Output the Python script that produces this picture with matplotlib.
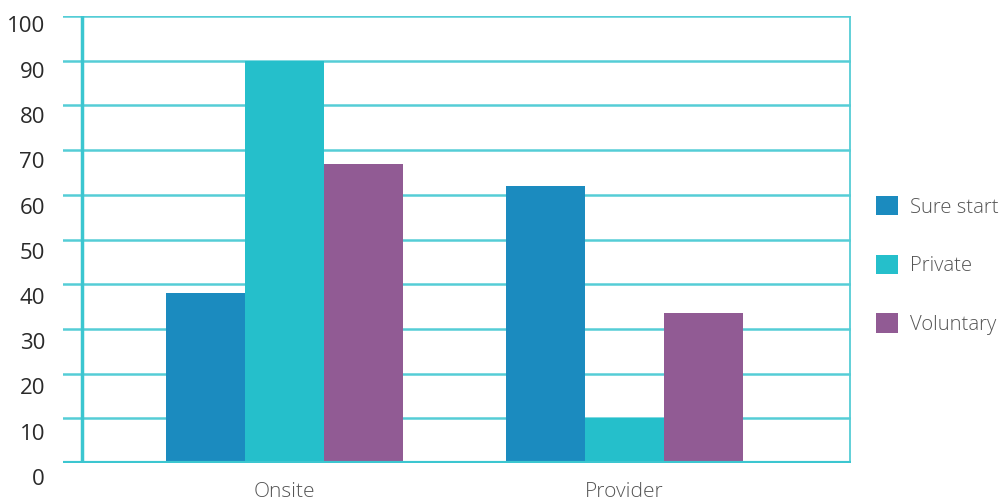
import matplotlib
matplotlib.use("Agg")
import matplotlib.pyplot as plt
import matplotlib.transforms as mtransforms
from matplotlib.patches import Patch
import numpy as np

categories = ["Onsite", "Provider"]
series = ["Sure start", "Private", "Voluntary"]
sure_start = [38, 62]
private = [90, 10]
voluntary = [67, 33.5]
colors = ["#1b8bbf", "#25bfcb", "#915b94"]
yticks = [0, 10, 20, 30, 40, 50, 60, 70, 80, 90, 100]

plt.rcParams['font.family'] = ['Open Sans', 'DejaVu Sans']

fig = plt.figure(figsize=(10.03, 5.01), dpi=100)
ax = fig.add_axes([63/1003, 38/501, 788/1003, 447/501])

x = np.arange(len(categories))
w = 0.2324
for i, (vals, c) in enumerate(zip([sure_start, private, voluntary], colors)):
    ax.bar(x + (i - 1) * w, vals, width=w, color=c, zorder=3, linewidth=0)

ax.set_xlim((63 - 284.5) / 340, (851 - 284.5) / 340)
ax.set_ylim(0, 100)
ax.set_yticks(yticks)
ax.grid(axis='y', color='#55cdd6', linewidth=1.8, zorder=1)
for s in ax.spines.values():
    s.set_visible(False)
ax.axhline(0, color='#3cc6d0', linewidth=3, zorder=4)
ax.axvline((82 - 284.5) / 340, color='#3cc6d0', linewidth=2.5, zorder=2)
ax.axvline((850 - 284.5) / 340, color='#55cdd6', linewidth=1.3, zorder=2)

ax.tick_params(axis='y', length=0, pad=13, labelsize=16, labelcolor='#2a2a2a')
ax.tick_params(axis='x', length=0, pad=13.5, labelsize=15, labelcolor='#555555')
ax.set_xticks(x)
ax.set_xticklabels(categories)
for lab, v in zip(ax.get_yticklabels(), yticks):
    off = mtransforms.ScaledTranslation(0, -(8.5 + (100 - v) * 0.055) / 100, fig.dpi_scale_trans)
    lab.set_transform(lab.get_transform() + off)
for lab in ax.get_xticklabels():
    lab.set_fontweight('light')

handles = [Patch(facecolor=c, edgecolor='none') for c in colors]
leg = fig.legend(handles, series, loc='upper left', bbox_to_anchor=(876/1003, 1 - 196/501),
                 frameon=False, fontsize=14.6, handlelength=1.1, handleheight=1.1,
                 labelspacing=1.83, handletextpad=0.6, borderpad=0, borderaxespad=0)
for t in leg.get_texts():
    t.set_color('#555555')
    t.set_fontweight('light')

fig.savefig("out.png", dpi=100)
